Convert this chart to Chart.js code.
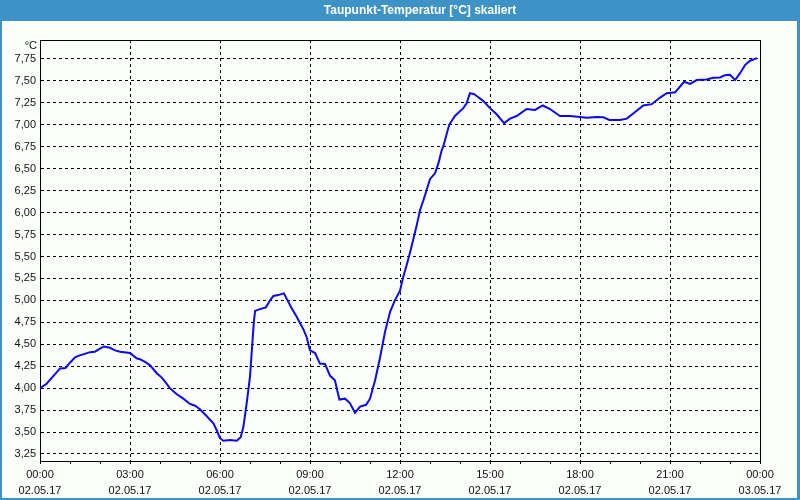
<!DOCTYPE html>
<html>
<head>
<meta charset="utf-8">
<script src="https://cdn.jsdelivr.net/npm/chart.js@4"></script>
<style>
html,body{margin:0;padding:0;background:#fcfefc;}
canvas{display:block;}
</style>
</head>
<body>
<canvas id="c" width="800" height="500"></canvas>
<script>
// Hours since 02.05.17 00:00
const hours = [0.00,0.22,0.45,0.67,0.85,1.00,1.17,1.30,1.44,1.67,1.83,2.00,2.13,2.33,2.50,2.67,3.00,3.22,3.33,3.50,3.67,3.89,4.06,4.20,4.33,4.56,4.78,5.00,5.17,5.33,5.56,5.78,5.89,6.00,6.11,6.33,6.56,6.69,6.78,6.89,7.00,7.09,7.13,7.17,7.33,7.53,7.67,7.78,7.94,8.13,8.22,8.39,8.56,8.67,8.78,8.89,9.00,9.17,9.33,9.50,9.67,9.83,9.98,10.17,10.33,10.50,10.67,10.87,11.00,11.17,11.33,11.50,11.67,11.83,12.00,12.11,12.22,12.33,12.44,12.56,12.67,12.78,12.89,13.00,13.17,13.28,13.39,13.44,13.64,13.83,14.11,14.22,14.33,14.47,14.78,15.00,15.22,15.47,15.67,15.89,16.22,16.50,16.76,17.00,17.33,17.67,18.00,18.22,18.56,18.78,18.98,19.33,19.56,19.89,20.11,20.39,20.67,20.89,21.17,21.47,21.67,21.89,22.22,22.44,22.67,22.83,23.00,23.17,23.33,23.50,23.67,23.90];
const dewPoint = [4.00,4.05,4.14,4.225,4.23,4.29,4.35,4.37,4.385,4.41,4.415,4.45,4.475,4.46,4.43,4.415,4.40,4.34,4.33,4.30,4.26,4.17,4.12,4.06,4.00,3.93,3.88,3.82,3.80,3.76,3.68,3.60,3.52,3.43,3.40,3.41,3.40,3.44,3.56,3.83,4.13,4.57,4.76,4.88,4.90,4.92,5.00,5.05,5.06,5.08,5.02,4.91,4.81,4.74,4.67,4.58,4.43,4.40,4.28,4.275,4.14,4.09,3.87,3.88,3.83,3.72,3.79,3.81,3.88,4.09,4.34,4.64,4.87,5.00,5.11,5.27,5.40,5.54,5.69,5.86,6.03,6.14,6.26,6.38,6.45,6.56,6.71,6.75,7.00,7.10,7.19,7.245,7.36,7.35,7.27,7.19,7.12,7.02,7.07,7.10,7.18,7.17,7.22,7.18,7.10,7.10,7.09,7.08,7.09,7.085,7.055,7.055,7.07,7.16,7.22,7.235,7.31,7.36,7.37,7.49,7.465,7.51,7.515,7.535,7.54,7.565,7.57,7.51,7.585,7.68,7.73,7.76];
const xTickTimes = ['00:00','03:00','06:00','09:00','12:00','15:00','18:00','21:00','00:00'];
const xTickDates = ['02.05.17','02.05.17','02.05.17','02.05.17','02.05.17','02.05.17','02.05.17','02.05.17','03.05.17'];
const titleText = 'Taupunkt-Temperatur [°C] skaliert';
const unitText = '°C';

const BLUE = '#3e93c6';
const FONT = '"Liberation Sans", Arial, sans-serif';

const frame = {
  id: 'frame',
  beforeDraw(chart) {
    const c = chart.ctx;
    c.save();
    c.fillStyle = '#fcfefc';
    c.fillRect(0, 0, 800, 500);
    c.restore();
  },
  beforeDatasetsDraw(chart) {
    const c = chart.ctx, a = chart.chartArea;
    c.save();
    c.strokeStyle = '#000';
    c.lineWidth = 1;
    c.setLineDash([]);
    c.strokeRect(Math.round(a.left) + 0.5, Math.round(a.top) + 0.5, Math.round(a.right - a.left), Math.round(a.bottom - a.top));
    c.restore();
  },
  afterDraw(chart) {
    const c = chart.ctx;
    c.save();
    c.fillStyle = BLUE;
    c.fillRect(0, 0, 800, 21);
    c.fillRect(0, 0, 2, 500);
    c.fillRect(797, 0, 3, 500);
    c.fillRect(0, 498, 800, 2);
    c.fillStyle = '#ffffff';
    c.font = 'bold 12px ' + FONT;
    c.textAlign = 'center';
    c.textBaseline = 'middle';
    c.fillText(titleText, 420, 11);
    c.fillStyle = '#111';
    c.font = '11px ' + FONT;
    c.textAlign = 'right';
    c.fillText(unitText, 37, 46);
    c.restore();
  }
};

new Chart(document.getElementById('c'), {
  type: 'line',
  data: {
    datasets: [{
      data: hours.map((h, i) => ({x: h, y: dewPoint[i]})),
      borderColor: '#0a0af0',
      borderWidth: 2,
      pointRadius: 0,
      tension: 0,
      fill: false
    }]
  },
  options: {
    responsive: false,
    devicePixelRatio: 1,
    animation: false,
    layout: {padding: {top: 40, right: 40, left: 0, bottom: 0}},
    plugins: {legend: {display: false}, tooltip: {enabled: false}, title: {display: false}},
    scales: {
      x: {
        type: 'linear',
        min: 0, max: 24,
        afterFit(s) { s.height = 39; },
        ticks: {
          stepSize: 1,
          autoSkip: false,
          maxRotation: 0,
          padding: 3,
          color: '#111',
          font: {family: FONT, size: 11, lineHeight: 1.45},
          callback(v) {
            if (v % 3 !== 0) return '';
            const k = v / 3;
            return [xTickTimes[k], xTickDates[k]];
          }
        },
        grid: {
          color: (ctx) => (ctx.tick && ctx.tick.value % 3 === 0) ? '#000' : 'rgba(0,0,0,0)',
          tickColor: '#000',
          tickLength: 3,
          tickBorderDash: [],
          lineWidth: 1
        },
        border: {display: true, color: '#000', dash: [3, 3]}
      },
      y: {
        min: 3.17, max: 7.966,
        afterFit(s) { s.width = 40; },
        ticks: {
          stepSize: 0.25,
          includeBounds: false,
          padding: 4,
          color: '#111',
          font: {family: FONT, size: 11},
          callback(v) { return v.toFixed(2).replace('.', ','); }
        },
        grid: {color: '#000', drawTicks: false, lineWidth: 1},
        border: {display: true, color: '#000', dash: [3, 3]}
      }
    }
  },
  plugins: [frame]
});
</script>
</body>
</html>
